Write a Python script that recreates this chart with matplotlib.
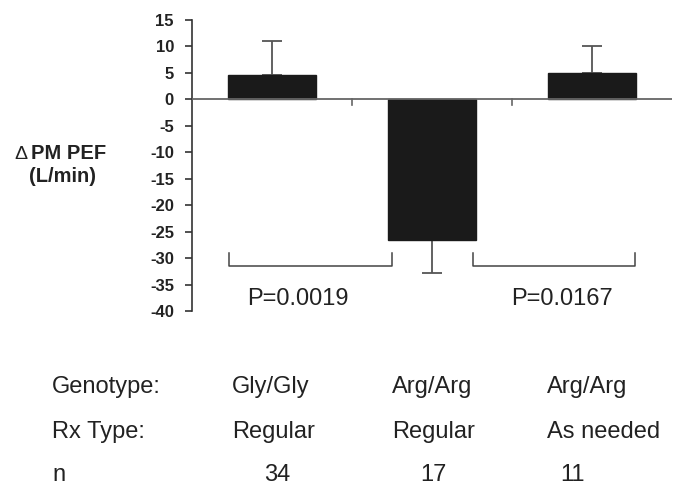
import matplotlib
matplotlib.use("Agg")
import matplotlib.pyplot as plt
import numpy as np

# ---- data ----
groups = ["Gly/Gly Regular", "Arg/Arg Regular", "Arg/Arg As needed"]
means = [4.6, -26.6, 4.9]
errors = [6.5, 6.2, 5.1]
p_labels = ["P=0.0019", "P=0.0167"]
yticks = [15, 10, 5, 0, -5, -10, -15, -20, -25, -30, -35, -40]
row_labels = ["Genotype:", "Rx Type:", "n"]
genotypes = ["Gly/Gly", "Arg/Arg", "Arg/Arg"]
rx_types = ["Regular", "Regular", "As needed"]
n_values = ["34", "17", "11"]

plt.rcParams['font.family'] = ['Liberation Sans', 'DejaVu Sans']

W, H = 673, 487
fig = plt.figure(figsize=(W / 100, H / 100), dpi=100)

def fx(px):
    return px / W

def fy(py):
    return 1 - py / H

ax = fig.add_axes([fx(192), fy(311), fx(672) - fx(192), fy(20) - fy(311)])
x = np.arange(len(groups))

ax.bar(x, means, width=0.55, color="#1a1a1a", edgecolor="#1a1a1a", zorder=2)
lower = [0 if m > 0 else e for m, e in zip(means, errors)]
upper = [e if m > 0 else 0 for m, e in zip(means, errors)]
ax.errorbar(x, means, yerr=[lower, upper], fmt="none", ecolor="#555555",
            elinewidth=1.3, capsize=7.5, capthick=1.3, zorder=1)

ax.set_xlim(-0.5, 2.5)
ax.set_ylim(-40, 15)
ax.axhline(0, color="#666666", lw=1.3, zorder=3)
# category separator ticks on the zero line
for xt in [0.5, 1.5]:
    ax.plot([xt, xt], [0, -1.0], color="#666666", lw=1.2, zorder=3)

for s in ["top", "right", "bottom"]:
    ax.spines[s].set_visible(False)
ax.spines["left"].set_color("#333333")
ax.spines["left"].set_linewidth(1.2)
ax.set_xticks([])
ax.set_yticks(yticks)
ax.set_yticklabels([str(t) for t in yticks], fontsize=12, fontweight="bold",
                   color="#222222")
ax.tick_params(axis="y", direction="out", length=5, width=1.2,
               color="#333333", pad=8)

# brackets
brackets = [(-0.268, 0.748), (1.259, 2.268)]
for (x0, x1), lab in zip(brackets, p_labels):
    ax.plot([x0, x0, x1, x1], [-29.0, -31.5, -31.5, -29.0],
            color="#444444", lw=1.1, zorder=3)

fig.text(fx(298), fy(299), p_labels[0], fontsize=17, ha="center",
         va="center", color="#222222")
fig.text(fx(562), fy(299), p_labels[1], fontsize=17, ha="center",
         va="center", color="#222222")

# y label
fig.text(fx(21), fy(159), "\u0394", fontsize=14, fontweight="normal",
         ha="center", va="baseline", color="#222222")
fig.text(fx(31), fy(159), "PM PEF", fontsize=14.5, fontweight="bold",
         ha="left", va="baseline", color="#222222")
fig.text(fx(63), fy(177), "(L/min)", fontsize=14.5, fontweight="bold",
         ha="center", va="center", color="#222222")

# table below
row_y = [393, 438, 481]
col_x = [232, 392, 547]
n_centers = [277, 433, 573]
for lab, ry in zip(row_labels, row_y):
    fig.text(fx(52), fy(ry), lab, fontsize=17, ha="left", va="baseline",
             color="#222222")
for g, cx in zip(genotypes, col_x):
    fig.text(fx(cx), fy(row_y[0]), g, fontsize=17, ha="left",
             va="baseline", color="#222222")
for r, cx in zip(rx_types, col_x):
    fig.text(fx(cx), fy(row_y[1]), r, fontsize=17, ha="left",
             va="baseline", color="#222222")
for nv, cx in zip(n_values, n_centers):
    fig.text(fx(cx), fy(row_y[2]), nv, fontsize=17, ha="center",
             va="baseline", color="#222222")

fig.savefig("out.png", dpi=100)
